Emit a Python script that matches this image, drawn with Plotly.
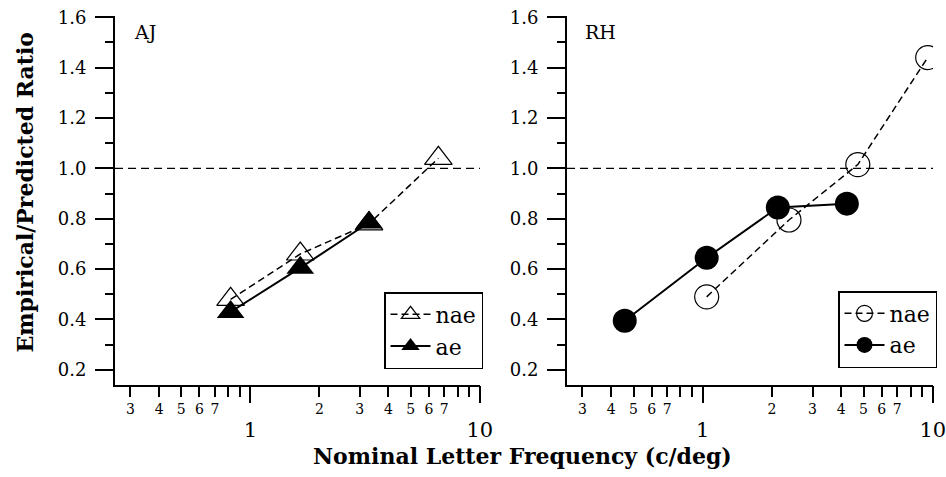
import plotly.graph_objects as go

# ---------------- data ----------------
AJ_NAE_X = [0.82, 1.65, 3.29, 6.6]
AJ_NAE_Y = [0.48, 0.66, 0.78, 1.04]
AJ_AE_X = [0.82, 1.65, 3.29]
AJ_AE_Y = [0.43, 0.605, 0.785]

RH_NAE_X = [1.04, 2.37, 4.72, 9.5]
RH_NAE_Y = [0.49, 0.795, 1.015, 1.44]
RH_AE_X = [0.458, 1.04, 2.12, 4.23]
RH_AE_Y = [0.395, 0.645, 0.845, 0.86]

REF_RATIO = 1.0

Y_TICKS = [0.2, 0.4, 0.6, 0.8, 1.0, 1.2, 1.4, 1.6]
Y_TICK_TEXT = ["0.2", "0.4", "0.6", "0.8", "1.0", "1.2", "1.4", "1.6"]
Y_MINOR_TICKS = [0.3, 0.5, 0.7, 0.9, 1.1, 1.3, 1.5]
X_MINOR_TICKS = [0.3, 0.4, 0.5, 0.6, 0.7, 0.8, 0.9, 2, 3, 4, 5, 6, 7, 8, 9]
X_MINOR_TEXT = ["3", "4", "5", "6", "7", "", "", "2", "3", "4", "5", "6", "7", "", ""]
X_MAJOR_TICKS = [1, 10]
X_MAJOR_TEXT = ["1", "10"]

PANEL_LABELS = ["AJ", "RH"]
SERIES_NAMES = ["nae", "ae"]

FONT = "DejaVu Serif"

fig = go.Figure()

# AJ panel
fig.add_trace(go.Scatter(
    x=AJ_NAE_X, y=AJ_NAE_Y, name=SERIES_NAMES[0], mode="lines+markers",
    line=dict(color="black", width=1.5, dash="7px,4px"),
    marker=dict(symbol="triangle-up-open", size=24, color="black", line=dict(width=1.2)),
    xaxis="x", yaxis="y", legend="legend"))
fig.add_trace(go.Scatter(
    x=AJ_AE_X, y=AJ_AE_Y, name=SERIES_NAMES[1], mode="lines+markers",
    line=dict(color="black", width=2),
    marker=dict(symbol="triangle-up", size=24, color="black"),
    xaxis="x", yaxis="y", legend="legend"))

# RH panel
fig.add_trace(go.Scatter(
    x=RH_NAE_X, y=RH_NAE_Y, name=SERIES_NAMES[0], mode="lines+markers",
    line=dict(color="black", width=1.5, dash="7px,4px"),
    marker=dict(symbol="circle-open", size=24, color="black", line=dict(width=1.2)),
    xaxis="x2", yaxis="y2", legend="legend2"))
fig.add_trace(go.Scatter(
    x=RH_AE_X, y=RH_AE_Y, name=SERIES_NAMES[1], mode="lines+markers",
    line=dict(color="black", width=2),
    marker=dict(symbol="circle", size=24, color="black"),
    xaxis="x2", yaxis="y2", legend="legend2"))

# empty helper traces so the overlaid major-tick axes get drawn
for xa, ya in (("x3", "y"), ("x4", "y2")):
    fig.add_trace(go.Scatter(x=X_MAJOR_TICKS, y=[None] * len(X_MAJOR_TICKS), mode="markers",
                             xaxis=xa, yaxis=ya, showlegend=False, hoverinfo="skip"))

XRANGE = [-0.59, 1.001]
YRANGE = [0.14, 1.605]
LEFT_DOM = [0.1216, 0.5074]
RIGHT_DOM = [0.5994, 0.9863]
Y_DOM = [0.1929, 0.9665]

def xminor(domain, anchor):
    return dict(type="log", range=XRANGE, domain=domain, anchor=anchor,
                showgrid=False, zeroline=False, showline=True, linecolor="black", linewidth=2,
                ticks="outside", ticklen=10, tickwidth=1.5, tickcolor="black",
                tickmode="array", tickvals=X_MINOR_TICKS, ticktext=X_MINOR_TEXT,
                ticklabeloverflow="allow",
                tickfont=dict(family=FONT, size=14, color="black"))

def xmajor(over, anchor):
    return dict(type="log", range=XRANGE, overlaying=over, anchor=anchor, side="bottom",
                showgrid=False, zeroline=False, showline=False,
                ticks="outside", ticklen=17, tickwidth=1.5, tickcolor="black",
                tickmode="array", tickvals=X_MAJOR_TICKS, ticktext=X_MAJOR_TEXT,
                ticklabelstandoff=9, ticklabeloverflow="allow",
                tickfont=dict(family=FONT, size=21, color="black"))

def yax(anchor):
    return dict(range=YRANGE, domain=Y_DOM, anchor=anchor,
                showgrid=False, zeroline=False, showline=True, linecolor="black", linewidth=2,
                ticks="outside", ticklen=18, tickwidth=1.5, tickcolor="black",
                tickmode="array", tickvals=Y_TICKS, ticktext=Y_TICK_TEXT,
                ticklabelstandoff=5,
                tickfont=dict(family=FONT, size=18, color="black"),
                minor=dict(tickmode="array", tickvals=Y_MINOR_TICKS,
                           ticks="outside", ticklen=8, tickwidth=1.5, tickcolor="black"))

legend_style = dict(bgcolor="white", bordercolor="black", borderwidth=1.5,
                    font=dict(family=FONT, size=22, color="black"),
                    xanchor="right", yanchor="bottom", itemwidth=40, traceorder="normal")

fig.update_layout(
    width=946, height=477,
    margin=dict(l=0, r=0, t=0, b=0, autoexpand=False),
    paper_bgcolor="white", plot_bgcolor="white",
    font=dict(family=FONT, color="black"),
    xaxis=xminor(LEFT_DOM, "y"),
    xaxis2=xminor(RIGHT_DOM, "y2"),
    xaxis3=xmajor("x", "y"),
    xaxis4=xmajor("x2", "y2"),
    yaxis=yax("x"),
    yaxis2=yax("x2"),
    legend=dict(x=0.5106, y=0.2264, **legend_style),
    legend2=dict(x=0.9905, y=0.2285, **legend_style),
    shapes=[
        dict(type="line", xref="x domain", yref="y", x0=0, x1=1, y0=REF_RATIO, y1=REF_RATIO,
             line=dict(color="black", width=1.3, dash="8px,5px"), layer="below"),
        dict(type="line", xref="x2 domain", yref="y2", x0=0, x1=1, y0=REF_RATIO, y1=REF_RATIO,
             line=dict(color="black", width=1.3, dash="8px,5px"), layer="below"),
    ],
    annotations=[
        dict(text=PANEL_LABELS[0], xref="x domain", yref="y domain", x=0.047, y=0.957,
             xanchor="left", yanchor="middle", showarrow=False,
             font=dict(family=FONT, size=19, color="black")),
        dict(text=PANEL_LABELS[1], xref="x2 domain", yref="y2 domain", x=0.044, y=0.957,
             xanchor="left", yanchor="middle", showarrow=False,
             font=dict(family=FONT, size=19, color="black")),
        dict(text="<b>Empirical/Predicted Ratio</b>", xref="paper", yref="paper",
             x=0.0264, y=0.5964, textangle=-90, showarrow=False,
             xanchor="center", yanchor="middle",
             font=dict(family=FONT, size=22, color="black")),
        dict(text="<b>Nominal Letter Frequency (c/deg)</b>", xref="paper", yref="paper",
             x=0.5518, y=0.044, showarrow=False, xanchor="center", yanchor="middle",
             font=dict(family=FONT, size=22, color="black")),
    ],
    showlegend=True,
)

fig.write_html("out.html", config={"displayModeBar": False},
               post_script="document.body.style.margin='0px';")
